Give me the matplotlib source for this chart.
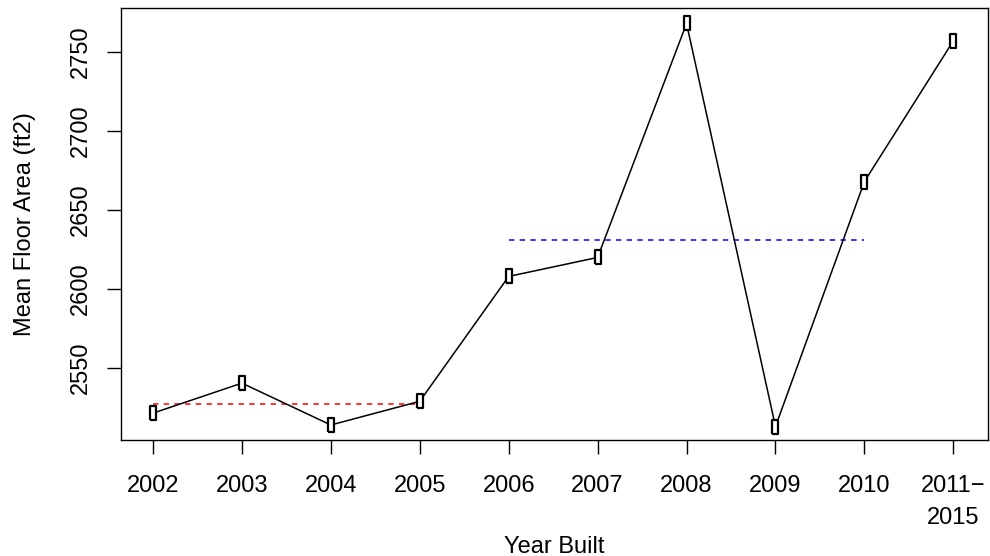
import matplotlib
matplotlib.use("Agg")
import matplotlib.pyplot as plt
import numpy as np

plt.rcParams["font.family"] = ["Liberation Sans", "DejaVu Sans"]

# mean floor area by year built
years = ["2002", "2003", "2004", "2005", "2006", "2007", "2008", "2009",
         "2010", "2011\u2212\n2015"]
mean_area = [2521.5, 2540.5, 2514, 2529, 2608, 2620, 2768, 2513, 2668, 2757]

# period averages drawn as dashed reference lines
early_span = (0, 3)
early_mean = 2527
late_span = (4, 8)
late_mean = 2631

yticks = [2550, 2600, 2650, 2700, 2750]

fs = 17
fig = plt.figure(figsize=(9.9, 5.56), dpi=100)
ax = fig.add_axes([0.1222, 0.2086, 0.8758, 0.777])

x = np.arange(len(years))
box = [(-1, -2), (1, -2), (1, 2), (-1, 2), (-1, -2)]
ax.plot(x, mean_area, color="black", lw=1.1, zorder=2)
ax.plot(x, mean_area, ls="none", marker=box, markersize=9.5,
        markerfacecolor="white", markeredgecolor="black", mew=1.6, zorder=3)

ax.plot(early_span, [early_mean, early_mean], color="red",
        ls=(0, (3.5, 3.5)), lw=1.1, zorder=1)
ax.plot(late_span, [late_mean, late_mean], color="blue",
        ls=(0, (3.5, 3.5)), lw=1.1, zorder=1)

ax.set_xlim(-0.36, 9.39)
ax.set_ylim(2504.5, 2777.8)
ax.set_xticks(x)
ax.set_xticklabels(years, fontsize=fs, linespacing=1.6)
ax.set_yticks(yticks)
ax.set_yticklabels([str(v) for v in yticks], fontsize=fs, rotation=90,
                   va="center")
ax.tick_params(direction="out", length=10, width=1)
ax.tick_params(axis="x", pad=15)
ax.tick_params(axis="y", pad=11)
for s in ax.spines.values():
    s.set_linewidth(1)

ax.set_xlabel("Year Built", fontsize=fs)
ax.xaxis.set_label_coords(0.5, -0.222)
ax.set_ylabel("Mean Floor Area (ft2)", fontsize=fs, labelpad=24)

fig.savefig("out.png", dpi=100)
